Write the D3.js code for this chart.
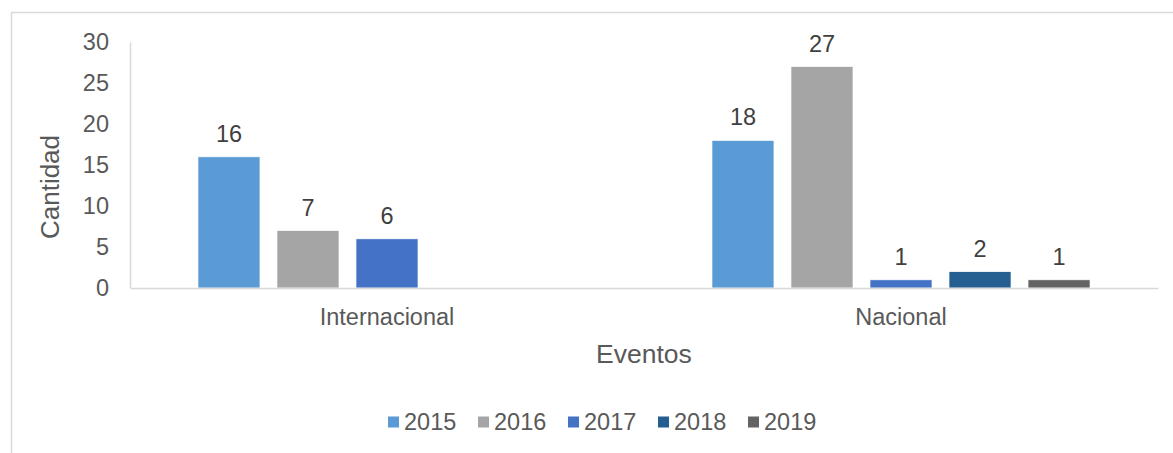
<!DOCTYPE html>
<html>
<head>
<meta charset="utf-8">
<script src="https://cdn.jsdelivr.net/npm/d3@7"></script>
<style>
  html, body { margin: 0; padding: 0; background: #fff; }
  svg { display: block; font-family: "Liberation Sans", Arial, sans-serif; }
</style>
</head>
<body>
<svg id="chart" width="1173" height="453"></svg>
<script>
const categories = ["Internacional", "Nacional"];
const years = ["2015", "2016", "2017", "2018", "2019"];
const values2015 = [16, 18];
const values2016 = [7, 27];
const values2017 = [6, 1];
const values2018 = [null, 2];
const values2019 = [null, 1];
const yTicks = [0, 5, 10, 15, 20, 25, 30];
const colors = ["#5B9BD5", "#A5A5A5", "#4472C4", "#255E91", "#636363"];
const xTitle = "Eventos";
const yTitle = "Cantidad";

const seriesValues = [values2015, values2016, values2017, values2018, values2019];
const data = categories.map((c, i) => ({
  category: c,
  bars: years.map((yr, j) => ({ year: yr, value: seriesValues[j][i], color: colors[j] }))
}));

const svg = d3.select("#chart");

// outer border (only top and left visible)
svg.append("path")
  .attr("d", "M11.5,1000 L11.5,12.5 L1200,12.5")
  .attr("fill", "none").attr("stroke", "#d9d9d9").attr("stroke-width", 1.5);

const plotLeft = 130, plotRight = 1158, plotTop = 42, plotBottom = 288;

const y = d3.scaleLinear().domain([0, 30]).range([plotBottom, plotTop]);
const x0 = d3.scaleBand().domain(categories).range([plotLeft, plotRight]).paddingInner(0).paddingOuter(0);
const x1 = d3.scaleBand().domain(years).range([0, x0.bandwidth()]).paddingInner(0.215).paddingOuter(0.86);

// y axis
const yAxis = svg.append("g").attr("transform", `translate(${plotLeft},0)`)
  .call(d3.axisLeft(y).tickValues(yTicks).tickSize(0).tickPadding(21));
yAxis.select(".domain").attr("stroke", "#d9d9d9").attr("stroke-width", 1.5);
yAxis.selectAll("text").attr("fill", "#595959").style("font-size", "23.5px");

// bars
const groups = svg.selectAll(".grp").data(data).join("g").attr("class", "grp")
  .attr("transform", d => `translate(${x0(d.category)},0)`);
groups.selectAll("rect").data(d => d.bars.filter(b => b.value != null)).join("rect")
  .attr("x", b => x1(b.year))
  .attr("y", b => y(b.value))
  .attr("width", x1.bandwidth())
  .attr("height", b => y(0) - y(b.value))
  .attr("fill", b => b.color)
  .attr("stroke", "#ffffff").attr("stroke-width", 0.7);
groups.selectAll("text").data(d => d.bars.filter(b => b.value != null)).join("text")
  .attr("x", b => x1(b.year) + x1.bandwidth() / 2)
  .attr("y", b => y(b.value) - 15)
  .attr("text-anchor", "middle")
  .attr("fill", "#404040")
  .style("font-size", "23.5px")
  .text(b => b.value);

// x axis
const xAxis = svg.append("g").attr("transform", `translate(0,${plotBottom})`)
  .call(d3.axisBottom(x0).tickSize(0).tickPadding(20));
xAxis.select(".domain").attr("stroke", "#d9d9d9").attr("stroke-width", 1.5);
xAxis.selectAll("text").attr("fill", "#595959").style("font-size", "23.5px");

// axis titles
svg.append("text").attr("x", (plotLeft + plotRight) / 2).attr("y", 363)
  .attr("text-anchor", "middle").attr("fill", "#595959").style("font-size", "26.5px").text(xTitle);
svg.append("text").attr("transform", `translate(59,187) rotate(-90)`)
  .attr("text-anchor", "middle").attr("fill", "#595959").style("font-size", "26px").text(yTitle);

// legend
const legend = svg.append("g").attr("transform", "translate(388,422)");
const items = legend.selectAll("g").data(years).join("g")
  .attr("transform", (d, i) => `translate(${i * 90},0)`);
items.append("rect").attr("x", 0).attr("y", -5.5).attr("width", 11).attr("height", 11)
  .attr("fill", (d, i) => colors[i]);
items.append("text").attr("x", 16).attr("y", 0).attr("dy", "0.35em")
  .attr("fill", "#595959").style("font-size", "23.5px").text(d => d);
</script>
</body>
</html>
